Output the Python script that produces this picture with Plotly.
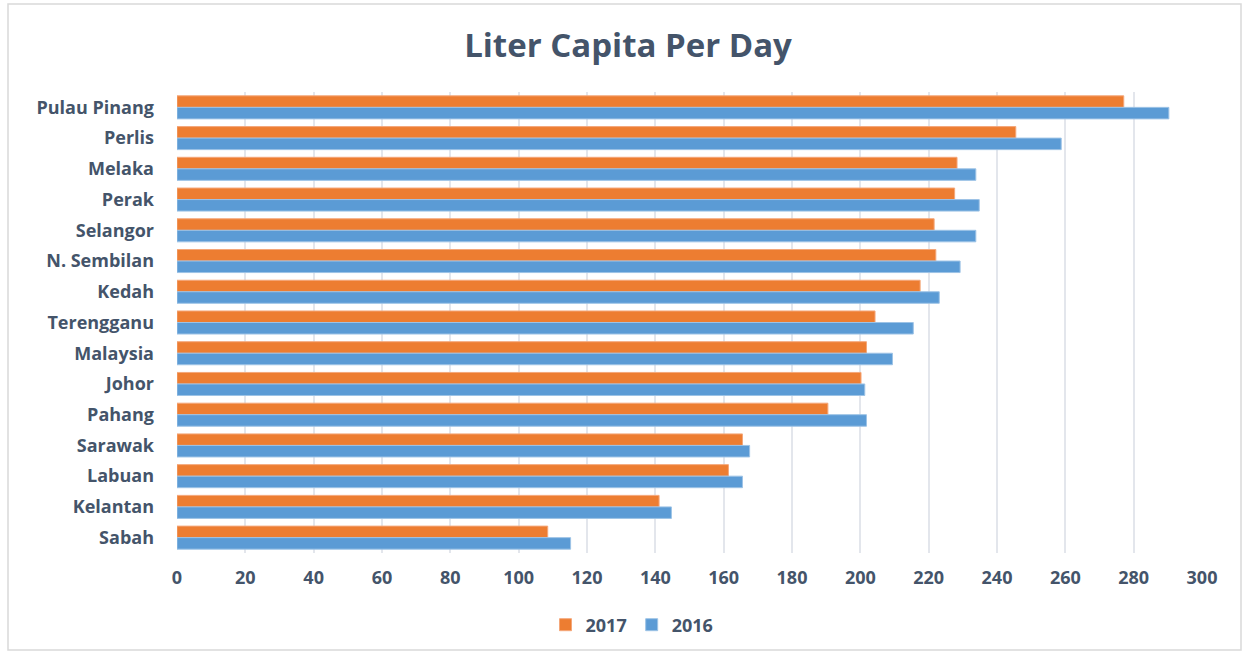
import plotly.graph_objects as go

categories = ["Pulau Pinang", "Perlis", "Melaka", "Perak", "Selangor", "N. Sembilan",
              "Kedah", "Terengganu", "Malaysia", "Johor", "Pahang", "Sarawak",
              "Labuan", "Kelantan", "Sabah"]
values_2017 = [277.1, 245.5, 228.3, 227.6, 221.6, 222.1, 217.5, 204.3, 201.8, 200.2,
               190.5, 165.5, 161.4, 141.1, 108.5]
values_2016 = [290.3, 258.8, 233.8, 234.8, 233.8, 229.2, 223.1, 215.5, 209.4, 201.3,
               201.8, 167.6, 165.5, 144.7, 115.2]
x_ticks = list(range(0, 301, 20))

TXT = "#44546A"
FONT = "Open Sans"

fig = go.Figure()
fig.add_trace(go.Bar(y=categories, x=values_2017, name="2017", orientation="h",
                     marker=dict(color="#ED7D31", line=dict(color="#F4A77A", width=1))))
fig.add_trace(go.Bar(y=categories, x=values_2016, name="2016", orientation="h",
                     marker=dict(color="#5B9BD5", line=dict(color="#9DC3E6", width=1))))

fig.update_layout(
    width=1247, height=654,
    margin=dict(l=177, r=45, t=92, b=101, autoexpand=False),
    paper_bgcolor="white", plot_bgcolor="white",
    barmode="group", bargap=0.25, bargroupgap=0,
    title=dict(text="Liter Capita Per Day", x=628/1247, xanchor="center",
               y=1-45/654, yanchor="middle",
               font=dict(family=FONT, size=33, color=TXT, weight="bold")),
    font=dict(family=FONT),
    legend=dict(orientation="h", x=(632-177)/1025, xanchor="center",
                y=(553-625)/461, yanchor="middle",
                font=dict(family=FONT, size=18, color=TXT, weight="bold"),
                traceorder="normal"),
    xaxis=dict(range=[0, 300], tickvals=x_ticks, showgrid=True, gridcolor="#E3E6EC",
               gridwidth=2, zeroline=False, showline=False, tickangle=0,
               automargin=False,
               tickfont=dict(family=FONT, size=18, color=TXT, weight="bold"),
               ticks="", ticklabelstandoff=12),
    yaxis=dict(autorange="reversed", showgrid=False, showline=False, automargin=False,
               tickfont=dict(family=FONT, size=18, color=TXT, weight="bold"),
               ticklabelstandoff=22),
    shapes=[dict(type="rect", xref="paper", yref="paper",
                 x0=(8-177)/1025, x1=(1241-177)/1025,
                 y0=(553-650)/461, y1=(553-4)/461,
                 line=dict(color="#D9D9D9", width=1.5), fillcolor="rgba(0,0,0,0)",
                 layer="below")],
)

fig.write_html("out.html")
